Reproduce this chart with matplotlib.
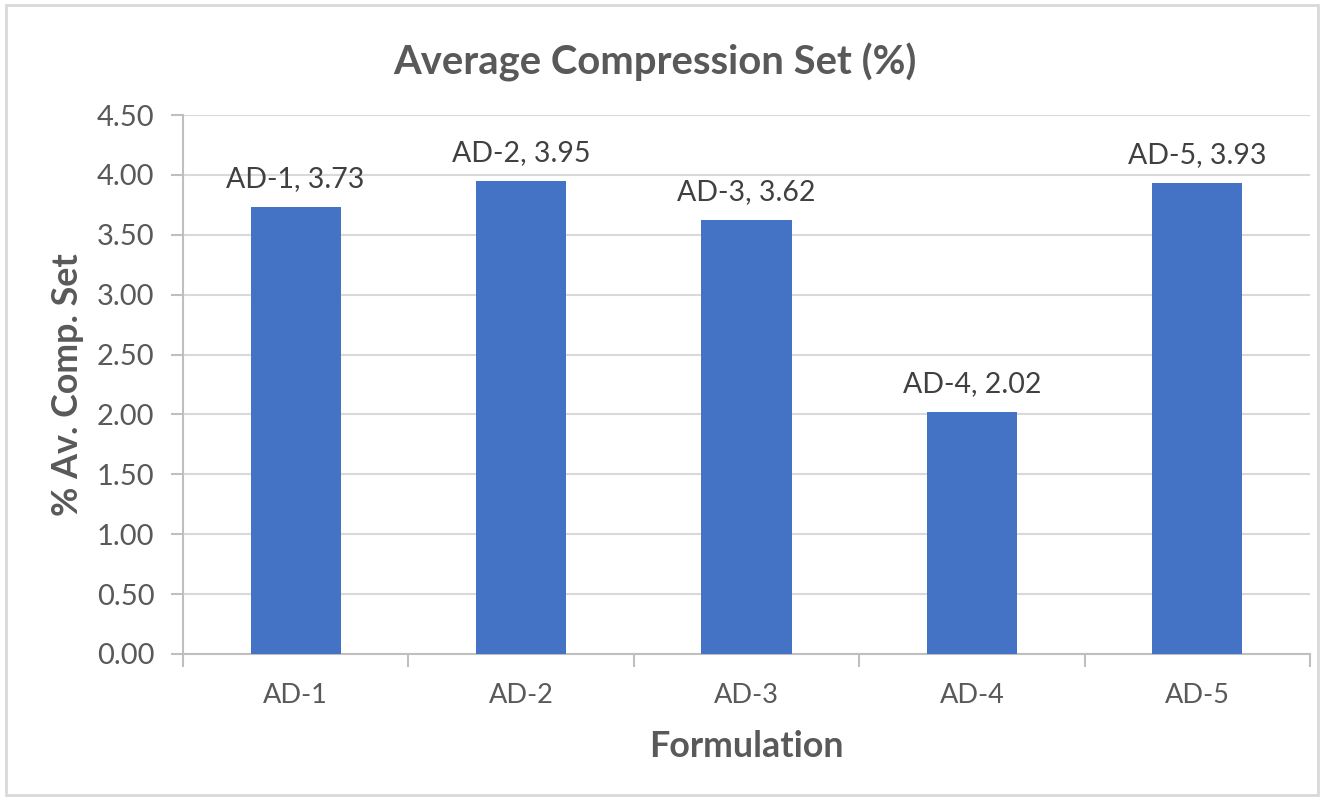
import matplotlib
matplotlib.use("Agg")
import matplotlib.pyplot as plt
from matplotlib.patches import Rectangle

plt.rcParams['font.family'] = ['Lato', 'DejaVu Sans']

formulations = ["AD-1", "AD-2", "AD-3", "AD-4", "AD-5"]
comp_set = [3.73, 3.95, 3.62, 2.02, 3.93]
y_ticks = [0.0, 0.5, 1.0, 1.5, 2.0, 2.5, 3.0, 3.5, 4.0, 4.5]

text_col = "#595959"
grid_col = "#D9D9D9"
axis_col = "#BFBFBF"
bar_col = "#4472C4"

fig = plt.figure(figsize=(13.24, 7.99), dpi=100)
ax = fig.add_axes([0.1382, 0.1815, 0.8512, 0.6745])

x = range(len(formulations))
bars = ax.bar(x, comp_set, width=0.40, color=bar_col, zorder=3)

for i, v in enumerate(comp_set):
    ax.annotate(f"{formulations[i]}, {v:.2f}", (i, v), xytext=(0, 11),
                textcoords="offset points", ha="center", va="bottom",
                fontsize=20.5, color="#404040")

ax.set_xlim(-0.5, len(formulations) - 0.5)
ax.set_ylim(0, 4.5)
ax.set_yticks(y_ticks)
ax.set_yticklabels([f"{t:.2f}" for t in y_ticks])
ax.set_xticks(list(x))
ax.set_xticklabels(formulations)
ax.set_xticks([i + 0.5 for i in range(-1, len(formulations))], minor=True)

ax.yaxis.grid(True, color=grid_col, linewidth=1.5, zorder=0)
ax.tick_params(axis="y", which="major", length=9, width=1.5, color=axis_col,
               labelsize=21, labelcolor=text_col, pad=11.5)
ax.tick_params(axis="x", which="major", length=0, labelsize=19.5,
               labelcolor=text_col, pad=21)
ax.tick_params(axis="x", which="minor", length=9, width=1.5, color=axis_col)

for side in ["top", "right"]:
    ax.spines[side].set_visible(False)
for side in ["left", "bottom"]:
    ax.spines[side].set_color(axis_col)
    ax.spines[side].set_linewidth(1.5)

ax.set_xlabel("Formulation", fontsize=25.8, fontweight="bold", color=text_col, va="center")
ax.xaxis.set_label_coords(0.5, -0.1725)
ax.set_ylabel("% Av. Comp. Set", fontsize=25.8, fontweight="bold", color=text_col, va="center")
ax.yaxis.set_label_coords(-0.1029, 0.5)
fig.text(0.4947, 0.922, "Average Compression Set (%)", ha="center", va="center",
         fontsize=28.8, fontweight="bold", color=text_col)

# chart border
fig.patches.append(Rectangle((0.0045, 0.005), 0.991, 0.989, transform=fig.transFigure,
                             fill=False, edgecolor="#D9D9D9", linewidth=2))

fig.savefig("out.png", dpi=100)
